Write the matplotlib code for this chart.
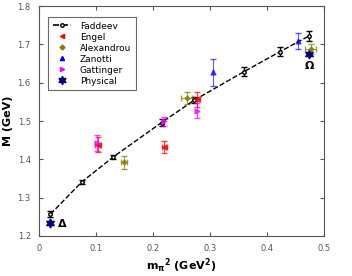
import matplotlib
matplotlib.use("Agg")
import matplotlib.pyplot as plt
from matplotlib.lines import Line2D

fad_x = [0.02, 0.075, 0.13, 0.215, 0.272, 0.36, 0.423, 0.474]
fad_y = [1.257, 1.341, 1.406, 1.496, 1.554, 1.629, 1.681, 1.722]
fad_e = [0.007, 0.005, 0.005, 0.008, 0.008, 0.012, 0.012, 0.014]

eng_x = [0.104, 0.22, 0.277]
eng_y = [1.438, 1.432, 1.557]
eng_e = [0.02, 0.015, 0.02]
eng_xe = [0.005, 0.004, 0.005]

ale_x = [0.149, 0.259, 0.477]
ale_y = [1.393, 1.56, 1.688]
ale_e = [0.017, 0.015, 0.014]
ale_xe = [0.006, 0.01, 0.01]

zan_x = [0.306, 0.455]
zan_y = [1.627, 1.709]
zan_e = [0.035, 0.022]

gat_x = [0.101, 0.22, 0.278]
gat_y = [1.443, 1.499, 1.527]
gat_e = [0.02, 0.012, 0.02]

phy_x = [0.019, 0.474]
phy_y = [1.233, 1.674]

star6 = (6, 1, 0)

fig = plt.figure(figsize=(3.52, 2.76), dpi=100)
ax = fig.add_axes([0.111, 0.145, 0.809, 0.833])

ax.errorbar(fad_x, fad_y, yerr=fad_e, color='black', ls='--', lw=1.0, marker='o',
            ms=2.5, mfc='white', mec='black', capsize=2.5, elinewidth=1)
ax.errorbar(eng_x, eng_y, yerr=eng_e, xerr=eng_xe, color='red', ls='none', marker='<',
            ms=3.5, capsize=2.5, elinewidth=0.8, alpha=0.75)
ax.errorbar(ale_x, ale_y, yerr=ale_e, xerr=ale_xe, color='olive', ls='none', marker='D',
            ms=2.5, capsize=2.5, elinewidth=0.8, alpha=0.75)
ax.errorbar(zan_x, zan_y, yerr=zan_e, color='blue', ls='none', marker='^',
            ms=3.5, capsize=2.5, elinewidth=0.8, alpha=0.65)
ax.errorbar(gat_x, gat_y, yerr=gat_e, color='magenta', ls='none', marker='>',
            ms=3.5, capsize=2.5, elinewidth=0.8, alpha=0.75)
ax.plot(phy_x, phy_y, color='navy', ls='none', marker=star6, ms=6.5)

ax.text(0.04, 1.232, 'Δ', fontsize=8, fontweight='bold', va='center', ha='center')
ax.text(0.474, 1.643, 'Ω', fontsize=8, fontweight='bold', va='center', ha='center')

ax.set_xlim(0, 0.5)
ax.set_ylim(1.2, 1.8)
ax.set_xticks([0, 0.1, 0.2, 0.3, 0.4, 0.5])
ax.set_xticklabels(['0', '0.1', '0.2', '0.3', '0.4', '0.5'])
ax.set_yticks([1.2, 1.3, 1.4, 1.5, 1.6, 1.7, 1.8])
ax.tick_params(direction='in', top=True, right=True, labelsize=6, labelcolor='#555555',
               color='#555555', length=3, pad=6)
for s in ax.spines.values():
    s.set_color('#555555')
ax.set_xlabel('m$_\\mathbf{\\pi}$$^\\mathbf{2}$ (GeV$^\\mathbf{2}$)', fontsize=8, fontweight='bold',
              labelpad=2)
ax.set_ylabel('M (GeV)', fontsize=8, fontweight='bold', labelpad=3)

handles = [
    Line2D([], [], color='black', ls='--', lw=1.2, marker='o', ms=2.5, mfc='white', mec='black'),
    Line2D([], [], color='red', ls='none', marker='<', ms=3),
    Line2D([], [], color='olive', ls='none', marker='D', ms=2.5),
    Line2D([], [], color='blue', ls='none', marker='^', ms=3),
    Line2D([], [], color='magenta', ls='none', marker='>', ms=3),
    Line2D([], [], color='navy', ls='none', marker=star6, ms=6),
]
labels = ['Faddeev', 'Engel', 'Alexandrou', 'Zanotti', 'Gattinger', 'Physical']
leg = ax.legend(handles, labels, loc='upper left', fontsize=6.5, frameon=True, fancybox=False,
                edgecolor='#444444', bbox_to_anchor=(0.032, 0.952), handlelength=2.0,
                borderpad=0.5, labelspacing=0.22, borderaxespad=0, handletextpad=1.0)
leg.get_frame().set_linewidth(0.8)

fig.savefig('out.png', dpi=100)
